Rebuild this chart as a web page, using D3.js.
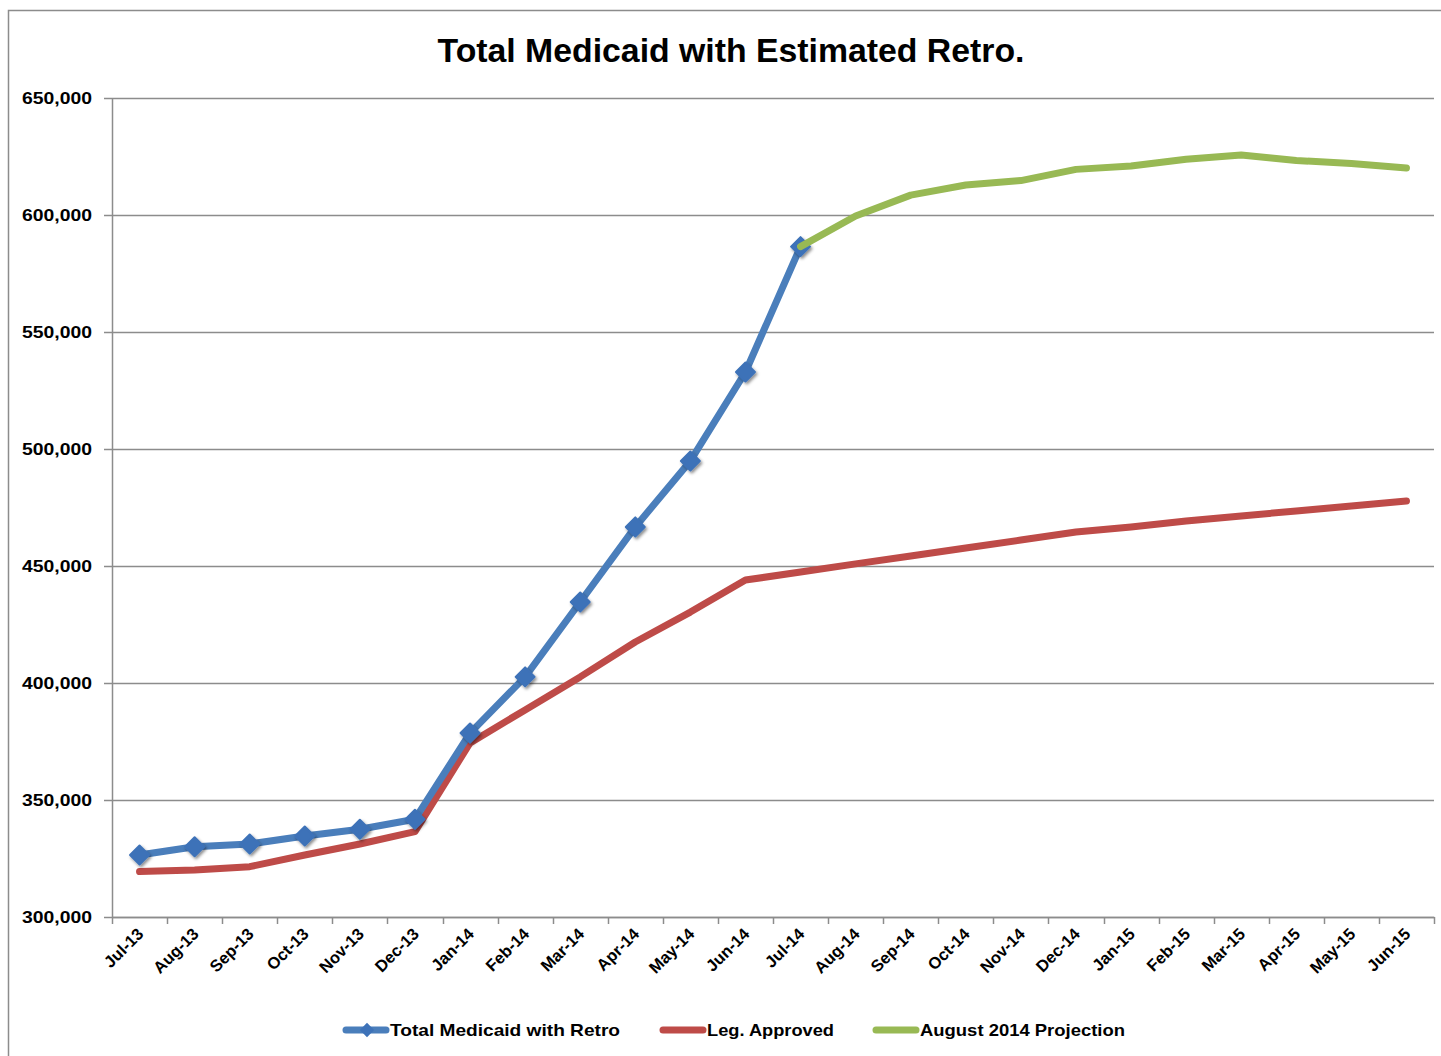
<!DOCTYPE html>
<html>
<head>
<meta charset="utf-8">
<script src="https://cdn.jsdelivr.net/npm/d3@7"></script>
<style>
  body { margin: 0; background: #fff; }
  svg { display: block; font-family: 'Liberation Sans', Arial, sans-serif; }
</style>
</head>
<body>
<svg id="chart"></svg>
<script>
const months = ['Jul-13', 'Aug-13', 'Sep-13', 'Oct-13', 'Nov-13', 'Dec-13', 'Jan-14', 'Feb-14', 'Mar-14', 'Apr-14', 'May-14', 'Jun-14',
  'Jul-14', 'Aug-14', 'Sep-14', 'Oct-14', 'Nov-14', 'Dec-14', 'Jan-15', 'Feb-15', 'Mar-15', 'Apr-15', 'May-15', 'Jun-15'];

// Total Medicaid with Retro (Jul-13 .. Jul-14)
const retroValues = [326500, 330000, 331200, 334600, 337500, 341800, 378600, 402600, 434600, 466700, 494900, 532900, 586500];

// Leg. Approved (full period)
const approvedValues = [319400, 320100, 321500, 326500, 331200, 336500, 374400, 388500, 402600, 417500, 430300, 444000,
  447400, 450900, 454300, 457700, 461100, 464500, 466700, 469200, 471400, 473500, 475600, 477800];

// August 2014 Projection (Jul-14 .. Jun-15)
const projectionStart = 12;
const projectionValues = [586500, 599600, 608500, 612800, 614700, 619500, 620900, 623800, 625600, 623300, 622000, 620100];

const yTicks = [300000, 350000, 400000, 450000, 500000, 550000, 600000, 650000];

const svgWidth = 1441;
const svgHeight = 1056;
const plot = { left: 112, right: 1434, top: 98, bottom: 917 };

const colors = { retro: '#4a7ebb', approved: '#be4b48', projection: '#98b954' };

const svg = d3.select('#chart')
  .attr('width', svgWidth)
  .attr('height', svgHeight);

const defs = svg.append('defs');
const shadow = defs.append('filter').attr('id', 'shadow')
  .attr('x', '-50%').attr('y', '-50%').attr('width', '200%').attr('height', '200%');
shadow.append('feDropShadow')
  .attr('dx', 1.5).attr('dy', 2).attr('stdDeviation', 1.8)
  .attr('flood-color', '#000').attr('flood-opacity', 0.45);

// outer chart frame
svg.append('rect')
  .attr('x', 8.5).attr('y', 10.5)
  .attr('width', svgWidth).attr('height', svgHeight)
  .attr('fill', '#fff')
  .attr('stroke', '#8c8c8c')
  .attr('stroke-width', 1.5);

const xScale = d3.scaleBand()
  .domain(months)
  .range([plot.left, plot.right]);

const yScale = d3.scaleLinear()
  .domain([300000, 650000])
  .range([plot.bottom, plot.top]);

const xc = m => xScale(m) + xScale.bandwidth() / 2;

// title
svg.append('text')
  .attr('x', 731)
  .attr('y', 62)
  .attr('text-anchor', 'middle')
  .attr('font-size', 34)
  .attr('font-weight', 'bold')
  .attr('textLength', 587)
  .attr('lengthAdjust', 'spacingAndGlyphs')
  .text('Total Medicaid with Estimated Retro.');

// gridlines
svg.append('g')
  .selectAll('line')
  .data(yTicks)
  .join('line')
  .attr('x1', plot.left - 8)
  .attr('x2', plot.right)
  .attr('y1', d => Math.round(yScale(d)) + 0.5)
  .attr('y2', d => Math.round(yScale(d)) + 0.5)
  .attr('stroke', '#8c8c8c')
  .attr('stroke-width', 1.5);

// y axis
const yAxis = d3.axisLeft(yScale)
  .tickValues(yTicks)
  .tickFormat(d3.format(','))
  .tickSize(0)
  .tickPadding(20);

const yAxisG = svg.append('g')
  .attr('transform', `translate(${plot.left},0)`)
  .call(yAxis);
yAxisG.select('.domain').attr('stroke', '#8c8c8c').attr('stroke-width', 1.5);
yAxisG.selectAll('text')
  .attr('font-size', 17)
  .attr('font-weight', 'bold')
  .attr('fill', '#000')
  .attr('textLength', 70)
  .attr('lengthAdjust', 'spacingAndGlyphs');

// x axis: ticks between categories, labels rotated
const xAxis = d3.axisBottom(xScale).tickSize(0).tickSizeOuter(0).tickPadding(0);
const xAxisG = svg.append('g')
  .attr('transform', `translate(0,${plot.bottom})`)
  .call(xAxis);
xAxisG.select('.domain').attr('stroke', '#8c8c8c').attr('stroke-width', 1.5);
xAxisG.selectAll('text')
  .attr('font-size', 16.5)
  .attr('font-weight', 'bold')
  .attr('fill', '#000')
  .attr('text-anchor', 'end')
  .attr('dy', 0)
  .attr('transform', 'translate(5,18) rotate(-45)');

const tickEdges = months.map(m => xScale(m)).concat([plot.right]);
svg.append('g')
  .selectAll('line')
  .data(tickEdges)
  .join('line')
  .attr('x1', d => Math.round(d) + 0.5)
  .attr('x2', d => Math.round(d) + 0.5)
  .attr('y1', plot.bottom)
  .attr('y2', plot.bottom + 7)
  .attr('stroke', '#8c8c8c')
  .attr('stroke-width', 1.5);

const line = d3.line()
  .x(d => xc(d.m))
  .y(d => yScale(d.v));

const approvedData = approvedValues.map((v, i) => ({ m: months[i], v }));
const retroData = retroValues.map((v, i) => ({ m: months[i], v }));
const projectionData = projectionValues.map((v, i) => ({ m: months[projectionStart + i], v }));

function drawLine(data, color) {
  svg.append('path')
    .datum(data)
    .attr('d', line)
    .attr('fill', 'none')
    .attr('stroke', color)
    .attr('stroke-width', 7)
    .attr('stroke-linejoin', 'round')
    .attr('stroke-linecap', 'round');
}

const diamond = d3.symbol().type(d3.symbolDiamond2).size(230);

drawLine(approvedData, colors.approved);
drawLine(retroData, colors.retro);

svg.append('g')
  .attr('filter', 'url(#shadow)')
  .selectAll('path')
  .data(retroData)
  .join('path')
  .attr('d', diamond)
  .attr('transform', d => `translate(${xc(d.m)},${yScale(d.v)})`)
  .attr('fill', '#3d72b8')
  .attr('stroke', '#3d72b8')
  .attr('stroke-width', 2)
  .attr('stroke-linejoin', 'round');

drawLine(projectionData, colors.projection);

// legend
const legendItems = [
  { name: 'Total Medicaid with Retro', color: colors.retro, x: 346, w: 230, marker: true },
  { name: 'Leg. Approved', color: colors.approved, x: 663, w: 127, marker: false },
  { name: 'August 2014 Projection', color: colors.projection, x: 876, w: 205, marker: false }
];
const legendY = 1030;

const legend = svg.append('g')
  .selectAll('g')
  .data(legendItems)
  .join('g')
  .attr('transform', d => `translate(${d.x},${legendY})`);

legend.append('line')
  .attr('x1', 0).attr('x2', 40)
  .attr('y1', 0).attr('y2', 0)
  .attr('stroke', d => d.color)
  .attr('stroke-width', 7)
  .attr('stroke-linecap', 'round');

legend.filter(d => d.marker)
  .append('path')
  .attr('d', d3.symbol().type(d3.symbolDiamond2).size(130))
  .attr('transform', 'translate(21,0)')
  .attr('fill', '#3d72b8');

legend.append('text')
  .attr('x', 44)
  .attr('y', 6)
  .attr('font-size', 17)
  .attr('font-weight', 'bold')
  .attr('fill', '#000')
  .attr('textLength', d => d.w)
  .attr('lengthAdjust', 'spacingAndGlyphs')
  .text(d => d.name);
</script>
</body>
</html>
